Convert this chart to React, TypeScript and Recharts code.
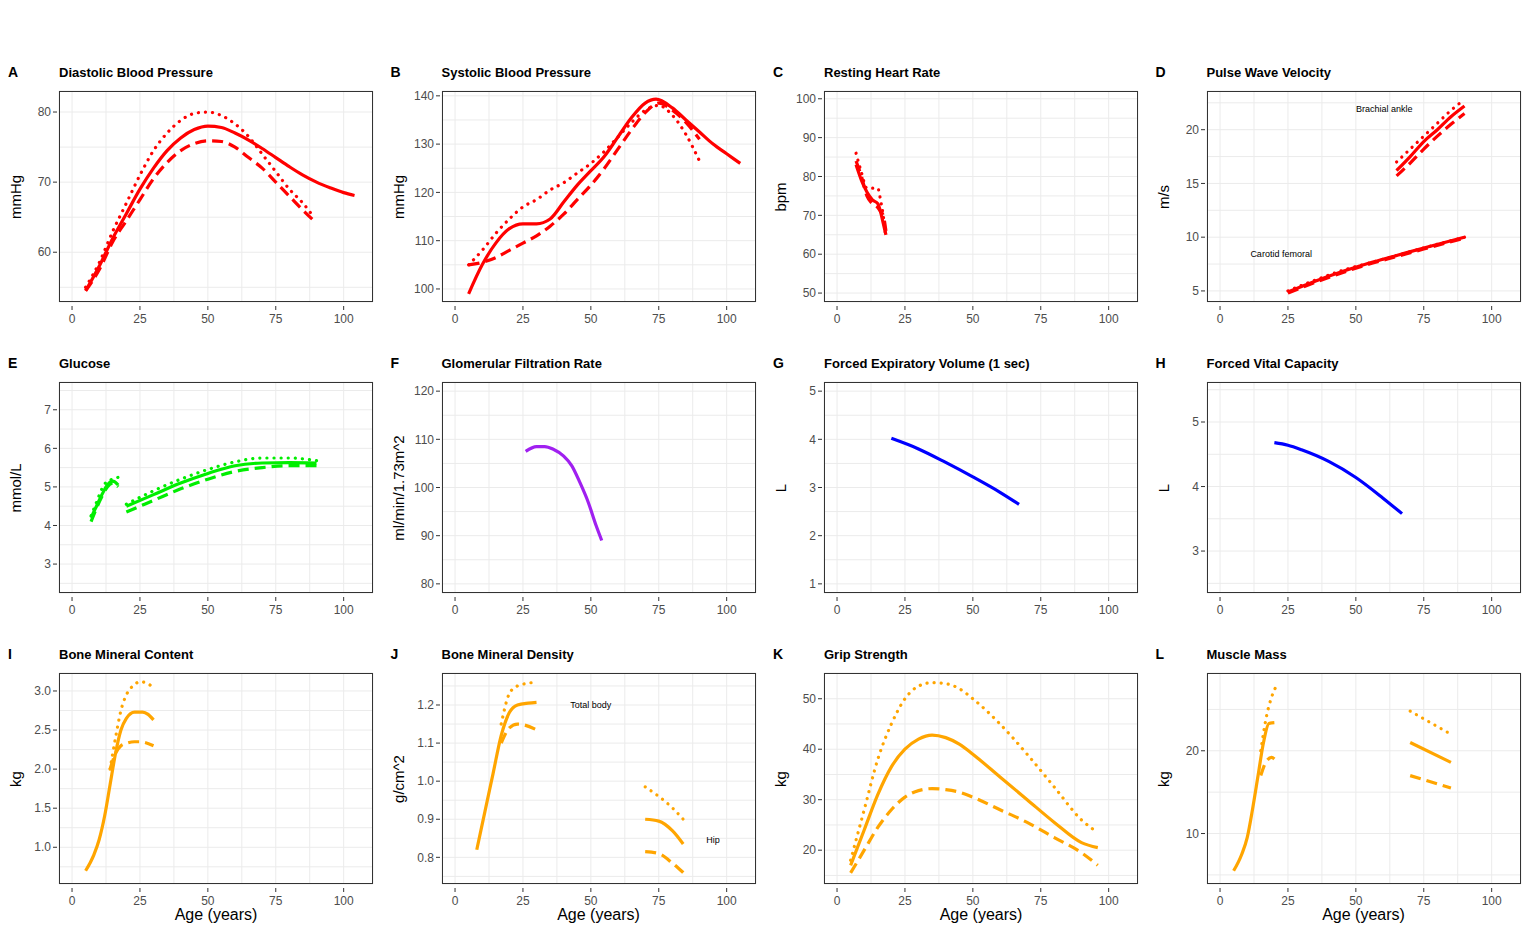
import React from "react";
import { LineChart, Line, XAxis, YAxis, CartesianGrid, ReferenceDot } from "recharts";

// ---- data ----
const dbpAge = [5, 10, 15, 20, 25, 30, 35, 40, 45, 50, 55, 60, 65, 70, 75, 80, 85, 90, 95, 100, 104];
const dbpMid = [54.5, 58, 62, 65.5, 69, 72, 74.5, 76.3, 77.5, 78, 77.8, 77, 76, 74.8, 73.5, 72.2, 71, 70, 69.2, 68.5, 68.1];
const dbpAge2 = [5, 10, 15, 20, 25, 30, 35, 40, 45, 50, 55, 60, 65, 70, 75, 80, 85, 89];
const dbpHigh = [55, 58.5, 63, 67, 71, 74.5, 77, 78.8, 79.8, 80, 79.5, 78.3, 76.5, 74, 71.5, 69, 67, 65];
const dbpLow = [54.5, 57.5, 61.5, 64.5, 67.5, 70.5, 72.8, 74.5, 75.5, 75.9, 75.8, 75, 73.5, 72, 70, 68, 66, 64.5];

const sbpAge = [5, 10, 15, 20, 25, 30, 35, 40, 45, 50, 55, 60, 65, 70, 74, 80, 85, 90, 95, 100, 105];
const sbpMid = [99, 105, 109.5, 112.5, 113.5, 113.5, 114.5, 118, 121.5, 124.5, 127.5, 131.5, 135.5, 138.5, 139.3, 137.5, 135, 132.5, 130, 128, 126];
const sbpAge2 = [5, 10, 15, 20, 25, 30, 35, 40, 45, 50, 55, 60, 65, 70, 75, 80, 85, 90];
const sbpHigh = [105, 108, 111.5, 114.5, 117, 118.5, 120.5, 122, 124, 126, 128.5, 131.5, 134.5, 137, 138, 136, 132, 126.5];
const sbpLow = [105, 105.5, 106.5, 108, 109.5, 111, 113, 115.5, 118.5, 121.5, 125, 129, 133, 136.5, 138.5, 137, 134.5, 131];

const hrAge = [7, 9, 11, 13, 15, 16, 17, 18];
const hrMid = [83, 79, 76, 74, 73, 71, 68, 65];
const hrHigh = [86, 81, 77, 77, 77, 74, 70, 64];
const hrLow = [84, 80, 75, 73, 72, 71, 70, 66];

const cfAge = [25, 35, 45, 55, 65, 75, 90];
const cfMid = [4.9, 5.9, 6.8, 7.6, 8.3, 9.0, 10.0];
const cfHigh = [5.0, 6.0, 6.9, 7.6, 8.3, 9.0, 10.0];
const cfLow = [4.8, 5.8, 6.7, 7.5, 8.2, 8.9, 9.9];
const baAge = [65, 70, 75, 80, 85, 90];
const baMid = [16.2, 17.5, 18.9, 20, 21.2, 22.2];
const baHigh = [17, 18.2, 19.4, 20.6, 21.8, 22.8];
const baLow = [15.7, 16.9, 18.2, 19.4, 20.5, 21.5];

const gluChildAge = [7, 9, 11, 13, 15, 17];
const gluChildMid = [4.2, 4.5, 4.8, 5.05, 5.15, 5.05];
const gluChildHigh = [4.25, 4.6, 4.95, 5.15, 5.2, 5.25];
const gluChildLow = [4.1, 4.45, 4.75, 5.0, 5.1, 5.0];
const gluAdultAge = [20, 30, 40, 50, 60, 70, 80, 90];
const gluAdultMid = [4.5, 4.8, 5.1, 5.35, 5.55, 5.62, 5.63, 5.62];
const gluAdultHigh = [4.55, 4.9, 5.2, 5.45, 5.65, 5.75, 5.75, 5.68];
const gluAdultLow = [4.35, 4.65, 4.95, 5.2, 5.4, 5.5, 5.55, 5.55];

const gfrAge = [26, 30, 33, 36, 40, 43, 46, 49, 52, 54];
const gfrMid = [107.5, 108.5, 108.5, 108, 106.5, 104.5, 101, 97, 92, 89];

const lungAge = [20, 30, 40, 50, 60, 67];
const fevMid = [4.02, 3.8, 3.52, 3.22, 2.9, 2.65];
const fvcAge = [20, 25, 30, 40, 50, 60, 67];
const fvcMid = [4.68, 4.64, 4.57, 4.39, 4.14, 3.82, 3.58];

const bmcAge = [5, 8, 10, 12, 14, 16, 18, 20, 23, 26, 28, 30];
const bmcMid = [0.7, 0.9, 1.1, 1.4, 1.8, 2.2, 2.5, 2.65, 2.73, 2.73, 2.7, 2.63];
const bmcAge2 = [14, 16, 18, 20, 23, 25, 30];
const bmcHigh = [2.0, 2.4, 2.75, 2.95, 3.08, 3.12, 3.05];
const bmcLow = [2.0, 2.2, 2.3, 2.33, 2.35, 2.35, 2.3];

const bmdAge = [8, 11, 14, 17, 20, 23, 27, 30];
const bmdMid = [0.82, 0.92, 1.02, 1.12, 1.18, 1.2, 1.205, 1.207];
const bmdAge2 = [17, 20, 23, 30];
const bmdHigh = [1.15, 1.23, 1.25, 1.26];
const bmdLow = [1.1, 1.14, 1.15, 1.135];
const hipAge = [70, 75, 80, 84];
const hipMid = [0.9, 0.895, 0.87, 0.835];
const hipHigh = [0.985, 0.96, 0.93, 0.9];
const hipLow = [0.815, 0.81, 0.785, 0.76];

const gripAge = [5, 10, 15, 20, 25, 30, 35, 40, 45, 50, 60, 70, 80, 90, 96];
const gripMid = [17, 24, 31, 36.5, 40, 42, 42.8, 42.3, 41, 39, 34.5, 30, 25.5, 21.5, 20.5];
const gripHigh = [18, 28, 38, 45, 50, 52.5, 53.2, 53, 52, 50, 45, 39, 32.5, 26, 23.5];
const gripLow = [15.5, 20, 24.5, 28, 30.5, 31.8, 32.2, 32, 31.5, 30.5, 28, 25.5, 22.5, 19.5, 17];

const mmAge = [5, 8, 10, 12, 14, 16, 18, 20];
const mmMid = [5.5, 7.5, 9.5, 13, 17, 21, 23.3, 23.4];
const mmAge2 = [15, 17, 19, 21];
const mmHigh = [20, 24, 26.5, 28];
const mmAge3 = [15, 17, 19, 20];
const mmLow = [17, 18.7, 19.2, 19];
const mmAdultAge = [70, 85];
const mmAdultMid = [21, 18.6];
const mmAdultHigh = [24.8, 22];
const mmAdultLow = [17, 15.5];

const xTicks = [0, 25, 50, 75, 100];

// ---- helpers ----
type Style = "solid" | "dot" | "dash";
type Series = { xs: number[]; ys: number[]; style: Style };
const s = (xs: number[], ys: number[], style: Style): Series => ({ xs, ys, style });
const trio = (xs: number[], mid: number[], hi: number[], lo: number[], xh = xs, xl = xs) => [
  s(xs, mid, "solid"), s(xh, hi, "dot"), s(xl, lo, "dash"),
];

const RED = "#ff0000", GREEN = "#00ee00", ORANGE = "#ffa500", BLUE = "#0000ff", PURPLE = "#a020f0";

type Panel = {
  letter: string; title: string; ylab: string; color: string;
  domain: [number, number]; ticks: number[]; digits: number;
  series: Series[]; notes?: { x: number; y: number; text: string }[];
};

const panels: Panel[] = [
  { letter: "A", title: "Diastolic Blood Pressure", ylab: "mmHg", color: RED, domain: [52.9, 83], ticks: [60, 70, 80], digits: 0,
    series: trio(dbpAge, dbpMid, dbpHigh, dbpLow, dbpAge2, dbpAge2) },
  { letter: "B", title: "Systolic Blood Pressure", ylab: "mmHg", color: RED, domain: [97.3, 141], ticks: [100, 110, 120, 130, 140], digits: 0,
    series: trio(sbpAge, sbpMid, sbpHigh, sbpLow, sbpAge2, sbpAge2) },
  { letter: "C", title: "Resting Heart Rate", ylab: "bpm", color: RED, domain: [47.7, 102], ticks: [50, 60, 70, 80, 90, 100], digits: 0,
    series: trio(hrAge, hrMid, hrHigh, hrLow) },
  { letter: "D", title: "Pulse Wave Velocity", ylab: "m/s", color: RED, domain: [3.97, 23.6], ticks: [5, 10, 15, 20], digits: 0,
    series: [...trio(cfAge, cfMid, cfHigh, cfLow), ...trio(baAge, baMid, baHigh, baLow)],
    notes: [{ x: 60.5, y: 21.9, text: "Brachial ankle" }, { x: 22.5, y: 8.5, text: "Carotid femoral" }] },
  { letter: "E", title: "Glucose", ylab: "mmol/L", color: GREEN, domain: [2.25, 7.72], ticks: [3, 4, 5, 6, 7], digits: 0,
    series: [...trio(gluChildAge, gluChildMid, gluChildHigh, gluChildLow), ...trio(gluAdultAge, gluAdultMid, gluAdultHigh, gluAdultLow)] },
  { letter: "F", title: "Glomerular Filtration Rate", ylab: "ml/min/1.73m^2", color: PURPLE, domain: [78.1, 121.9], ticks: [80, 90, 100, 110, 120], digits: 0,
    series: [s(gfrAge, gfrMid, "solid")] },
  { letter: "G", title: "Forced Expiratory Volume (1 sec)", ylab: "L", color: BLUE, domain: [0.81, 5.19], ticks: [1, 2, 3, 4, 5], digits: 0,
    series: [s(lungAge, fevMid, "solid")] },
  { letter: "H", title: "Forced Vital Capacity", ylab: "L", color: BLUE, domain: [2.35, 5.62], ticks: [3, 4, 5], digits: 0,
    series: [s(fvcAge, fvcMid, "solid")] },
  { letter: "I", title: "Bone Mineral Content", ylab: "kg", color: ORANGE, domain: [0.53, 3.23], ticks: [1, 1.5, 2, 2.5, 3], digits: 1,
    series: trio(bmcAge, bmcMid, bmcHigh, bmcLow, bmcAge2, bmcAge2) },
  { letter: "J", title: "Bone Mineral Density", ylab: "g/cm^2", color: ORANGE, domain: [0.73, 1.284], ticks: [0.8, 0.9, 1.0, 1.1, 1.2], digits: 1,
    series: [...trio(bmdAge, bmdMid, bmdHigh, bmdLow, bmdAge2, bmdAge2), ...trio(hipAge, hipMid, hipHigh, hipLow)],
    notes: [{ x: 50, y: 1.2, text: "Total body" }, { x: 95, y: 0.847, text: "Hip" }] },
  { letter: "K", title: "Grip Strength", ylab: "kg", color: ORANGE, domain: [13.3, 55.1], ticks: [20, 30, 40, 50], digits: 0,
    series: trio(gripAge, gripMid, gripHigh, gripLow) },
  { letter: "L", title: "Muscle Mass", ylab: "kg", color: ORANGE, domain: [3.9, 29.4], ticks: [10, 20], digits: 0,
    series: [...trio(mmAge, mmMid, mmHigh, mmLow, mmAge2, mmAge3), ...trio(mmAdultAge, mmAdultMid, mmAdultHigh, mmAdultLow)] },
];

const FONT = "'Liberation Sans', Arial, sans-serif";
const PW = 314, PH = 211, YW = 45, TOP = 5, XH = 25;

// major ticks plus the minor grid positions between them
const withMinor = (t: number[]) => {
  const out: number[] = [];
  t.forEach((v, i) => {
    if (i > 0) out.push((t[i - 1] + v) / 2);
    out.push(v);
  });
  const step = t.length > 1 ? t[1] - t[0] : 1;
  return [t[0] - step / 2, ...out, t[t.length - 1] + step / 2];
};

const dashOf = (st: Style) => (st === "dot" ? "0.1 7" : st === "dash" ? "11 6" : undefined);

function PanelView({ p, idx }: { p: Panel; idx: number }) {
  const col = idx % 4, row = Math.floor(idx / 4);
  const left = 59 + col * 382.5, top = 91 + row * 291;
  const majors = new Set(p.ticks.map((v) => v.toFixed(3)));
  const yTick = (props: any) => {
    const { x, y, payload } = props;
    if (!majors.has(Number(payload.value).toFixed(3))) return <g />;
    return (
      <g>
        <line x1={x + 2} x2={x + 6} y1={y} y2={y} stroke="#333" />
        <text x={x} y={y} dy="0.35em" textAnchor="end" fontSize={12} fill="#4d4d4d" fontFamily={FONT}>
          {Number(payload.value).toFixed(p.digits)}
        </text>
      </g>
    );
  };
  const xTick = (props: any) => {
    const { x, y, payload } = props;
    if (!xTicks.includes(payload.value)) return <g />;
    return (
      <g>
        <line x1={x} x2={x} y1={y - 4} y2={y} stroke="#333" />
        <text x={x} y={y + 4} dy="0.71em" textAnchor="middle" fontSize={12} fill="#4d4d4d" fontFamily={FONT}>
          {payload.value}
        </text>
      </g>
    );
  };
  const yMin = withMinor(p.ticks).filter((v) => v > p.domain[0] && v < p.domain[1]);
  return (
    <>
      <div style={{ position: "absolute", left: left - 51, top: top - 27, fontWeight: "bold", fontSize: 14, fontFamily: FONT }}>{p.letter}</div>
      <div style={{ position: "absolute", left, top: top - 26, fontWeight: "bold", fontSize: 13, fontFamily: FONT }}>{p.title}</div>
      <div style={{ position: "absolute", left: left - 44, top: top + PH / 2, fontSize: 15, fontFamily: FONT,
        transform: "translate(-50%, -50%) rotate(-90deg)", whiteSpace: "nowrap" }}>{p.ylab}</div>
      {row === 2 && (
        <div style={{ position: "absolute", left: left + PW / 2, top: top + PH + 22, fontSize: 16, fontFamily: FONT,
          transform: "translateX(-50%)", whiteSpace: "nowrap" }}>Age (years)</div>
      )}
      <div style={{ position: "absolute", left: left - YW, top: top - TOP }}>
        <LineChart width={PW + YW + 5} height={PH + TOP + XH} margin={{ top: TOP, right: 5, left: 0, bottom: 0 }}>
          <CartesianGrid stroke="#ebebeb" strokeWidth={1} fill="#fff" />
          <XAxis type="number" dataKey="x" domain={[-4.8, 110.8]} ticks={[0, 12.5, 25, 37.5, 50, 62.5, 75, 87.5, 100]}
            interval={0} allowDataOverflow axisLine={false} tickLine={false} tick={xTick} height={XH} />
          <YAxis type="number" domain={p.domain} ticks={yMin} interval={0} allowDataOverflow axisLine={false} tickLine={false}
            tick={yTick} width={YW} />
          {p.series.map((se, i) => (
            <Line key={i} data={se.xs.map((x, j) => ({ x, y: se.ys[j] }))} dataKey="y" type="monotone"
              stroke={p.color} strokeWidth={3.2} strokeDasharray={dashOf(se.style)} strokeLinecap={se.style === "dot" ? "round" : "butt"}
              dot={false} isAnimationActive={false} />
          ))}
          {(p.notes || []).map((n, i) => (
            <ReferenceDot key={"n" + i} x={n.x} y={n.y} r={0} fill="none" stroke="none"
              label={{ value: n.text, position: "center", fontSize: 9, fill: "#000", fontFamily: FONT }} />
          ))}
        </LineChart>
      </div>
      <div style={{ position: "absolute", left, top, width: PW, height: PH, border: "1px solid #333", boxSizing: "border-box", pointerEvents: "none" }} />
    </>
  );
}

export default function App() {
  return (
    <div style={{ position: "absolute", left: 0, top: 0, width: 1530, height: 934, background: "#fff", fontFamily: FONT }}>
      {panels.map((p, i) => <PanelView key={p.letter} p={p} idx={i} />)}
    </div>
  );
}
